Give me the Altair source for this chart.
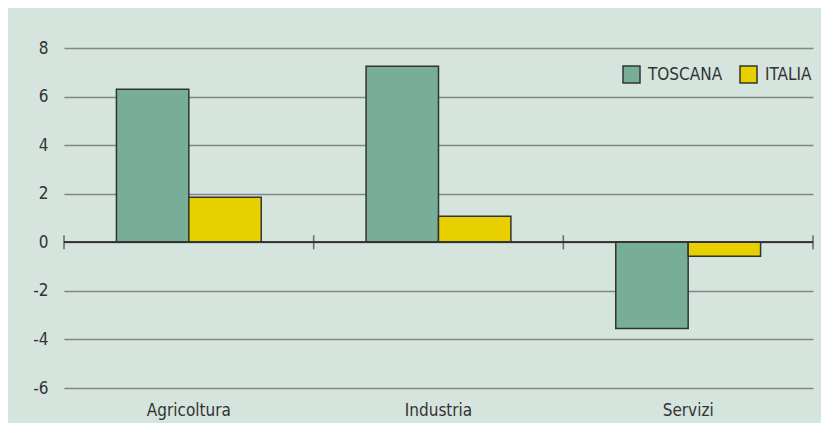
import altair as alt
import pandas as pd

categories = ["Agricoltura", "Industria", "Servizi"]
series = ["TOSCANA", "ITALIA"]
toscana = [6.3, 7.25, -3.55]
italia = [1.85, 1.07, -0.58]
y_ticks = [-6, -4, -2, 0, 2, 4, 6, 8]
boundaries = [0, 1, 2, 3]

rows = []
for i, c in enumerate(categories):
    rows.append({"cat": c, "serie": "TOSCANA", "val": toscana[i]})
    rows.append({"cat": c, "serie": "ITALIA", "val": italia[i]})
df = pd.DataFrame(rows)
bdf = pd.DataFrame({"b": boundaries})

FONT = "DejaVu Sans Condensed, sans-serif"
TXT = "#333333"
FS = 17

bars = alt.Chart(df).mark_bar(stroke="#333333", strokeWidth=1.5).encode(
    x=alt.X("cat:N", sort=categories, title=None,
            scale=alt.Scale(paddingInner=0.42, paddingOuter=0.21),
            axis=alt.Axis(labelAngle=0, ticks=False, domain=False, labelPadding=14,
                          labelFontSize=FS, labelFont=FONT, labelColor=TXT)),
    xOffset=alt.XOffset("serie:N", sort=series, scale=alt.Scale(paddingInner=0, paddingOuter=0)),
    y=alt.Y("val:Q", title=None,
            scale=alt.Scale(domain=[-6, 8], nice=False, zero=False),
            axis=alt.Axis(values=y_ticks, grid=True, gridColor="#858585", gridWidth=1.5,
                          ticks=False, domain=False, labelPadding=16,
                          labelExpr="'' + datum.value",
                          labelFontSize=FS, labelFont=FONT, labelColor=TXT)),
    color=alt.Color("serie:N", sort=series, title=None,
                    scale=alt.Scale(domain=series, range=["#78ae98", "#e8d000"]),
                    legend=alt.Legend(orient="none", legendX=558, legendY=17,
                                      direction="horizontal", symbolType="square",
                                      symbolSize=289, symbolStrokeColor="#333333",
                                      symbolStrokeWidth=1.5, labelFontSize=FS,
                                      labelFont=FONT, labelColor=TXT, labelOffset=7,
                                      columnPadding=14, padding=0)),
)

zero = alt.Chart(bdf).mark_rule(color="#333333", strokeWidth=1.5).encode(
    y=alt.datum(0)
)

ticks = alt.Chart(bdf).mark_tick(orient="vertical", size=14, thickness=1.5, color="#333333").encode(
    x=alt.X("b:Q", scale=alt.Scale(domain=[0, 3], nice=False, zero=False), axis=None),
    y=alt.datum(0),
)

chart = alt.layer(bars, zero, ticks).resolve_scale(x="independent").properties(
    width=749, height=340,
    background="#d5e4dd",
    padding={"left": 56, "top": 40, "right": 8, "bottom": 35},
    autosize=alt.AutoSizeParams(type="none"),
).configure_view(stroke=None)

chart.save("out.html", embed_options={"renderer": "svg", "actions": False})
